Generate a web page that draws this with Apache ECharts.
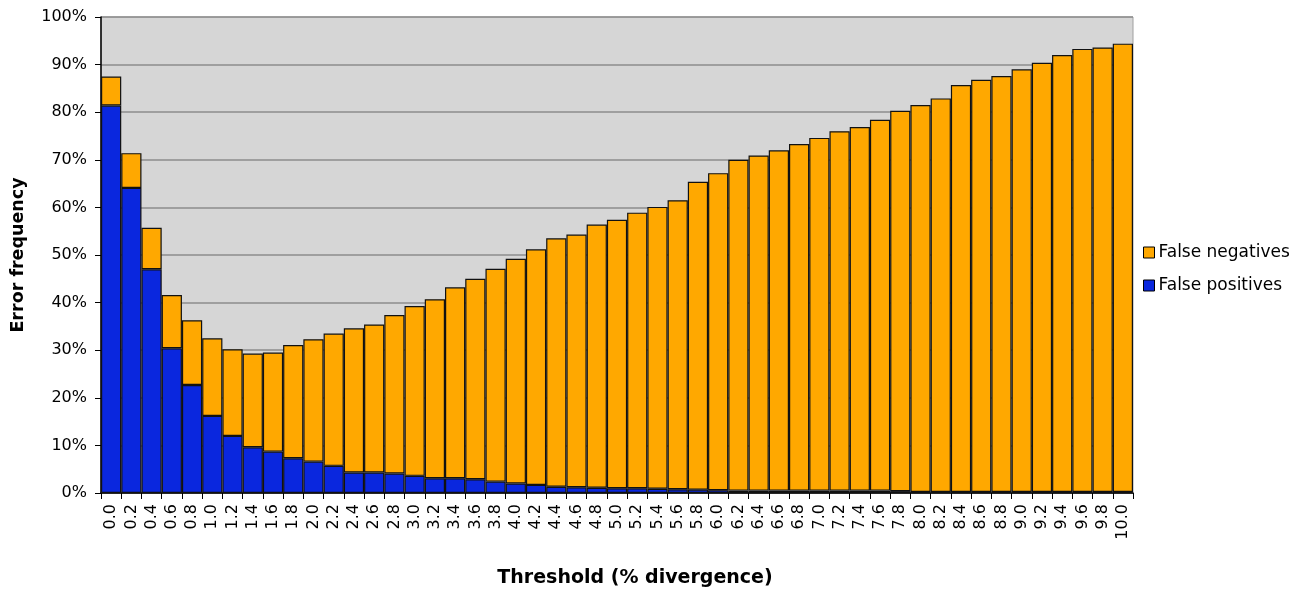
<!DOCTYPE html>
<html><head><meta charset="utf-8">
<script src="https://cdn.jsdelivr.net/npm/echarts@6/dist/echarts.min.js"></script>
<style>html,body{margin:0;padding:0;background:#fff}#c{width:1307px;height:593px}</style>
</head><body><div id="c"></div>
<script>
const categories = ['0.0','0.2','0.4','0.6','0.8','1.0','1.2','1.4','1.6','1.8','2.0','2.2','2.4','2.6','2.8','3.0','3.2','3.4','3.6','3.8','4.0','4.2','4.4','4.6','4.8','5.0','5.2','5.4','5.6','5.8','6.0','6.2','6.4','6.6','6.8','7.0','7.2','7.4','7.6','7.8','8.0','8.2','8.4','8.6','8.8','9.0','9.2','9.4','9.6','9.8','10.0'];
// total error (top of stacked bar), %
const totalError = [87.5,71.4,55.7,41.6,36.3,32.5,30.2,29.3,29.5,31.1,32.3,33.5,34.6,35.4,37.4,39.3,40.7,43.2,45.0,47.1,49.2,51.2,53.5,54.3,56.4,57.4,58.9,60.1,61.5,65.4,67.2,70.0,70.9,72.0,73.3,74.6,76.0,76.9,78.4,80.3,81.5,82.9,85.7,86.8,87.6,89.0,90.4,92.0,93.3,93.6,94.4];
// false positives, %
const falsePositives = [81.4,64.1,47.0,30.4,22.7,16.2,12.0,9.6,8.7,7.3,6.6,5.7,4.3,4.3,4.1,3.6,3.1,3.1,2.9,2.4,2.0,1.7,1.3,1.2,1.1,1.0,1.0,0.9,0.8,0.7,0.6,0.5,0.5,0.5,0.5,0.5,0.5,0.5,0.5,0.4,0.2,0.2,0.2,0.2,0.2,0.2,0.2,0.2,0.2,0.2,0.2];
const falseNegatives = totalError.map((t,i)=>+(t - falsePositives[i]).toFixed(1));
const yTicks = [0,10,20,30,40,50,60,70,80,90,100];

const FONT = 'DejaVu Sans';
const chart = echarts.init(document.getElementById('c'));
chart.setOption({
  animation:false,
  textStyle:{fontFamily:FONT},
  grid:{left:101,right:174,top:17,bottom:100,show:true,backgroundColor:'#d6d6d6',borderColor:'#a0a0a0',borderWidth:1},
  legend:{
    orient:'vertical', left:1138, top:239, itemWidth:11, itemHeight:11, itemGap:16,
    icon:'rect',
    data:['False negatives','False positives'],
    textStyle:{fontFamily:FONT,fontSize:17,color:'#000',padding:[0,0,0,-1]},
    itemStyle:{borderColor:'#000',borderWidth:1}
  },
  xAxis:{
    type:'category', data:categories, boundaryGap:true,
    name:'Threshold (% divergence)', nameLocation:'middle', nameGap:76,
    nameTextStyle:{fontFamily:FONT,fontSize:19,fontWeight:'bold',color:'#000',padding:[0,0,0,36]},
    axisLine:{lineStyle:{color:'#000',width:1.5}},
    axisTick:{show:true,alignWithLabel:false,length:6,lineStyle:{color:'#000'}},
    axisLabel:{rotate:90,interval:0,fontSize:16,color:'#000',margin:11,fontFamily:FONT},
    splitLine:{show:false}
  },
  yAxis:{
    type:'value', min:0, max:100, interval:10,
    name:'Error frequency', nameLocation:'middle', nameGap:74,
    nameTextStyle:{fontFamily:FONT,fontSize:17.5,fontWeight:'bold',color:'#000'},
    axisLine:{show:true,lineStyle:{color:'#000',width:1.5}},
    axisTick:{show:true,length:6,lineStyle:{color:'#000'}},
    axisLabel:{fontSize:16,color:'#000',margin:14,fontFamily:FONT,formatter:v=>yTicks.includes(v)?v+'%':''},
    splitLine:{show:true,lineStyle:{color:'#8c8c8c',width:1.5}}
  },
  series:[
    {name:'False positives',type:'bar',stack:'e',data:falsePositives,barCategoryGap:'0%',
     itemStyle:{color:'#0A27DE',borderColor:'#111',borderWidth:1.2}},
    {name:'False negatives',type:'bar',stack:'e',data:falseNegatives,barCategoryGap:'0%',
     itemStyle:{color:'#FFA800',borderColor:'#111',borderWidth:1.2}}
  ]
});
</script></body></html>
